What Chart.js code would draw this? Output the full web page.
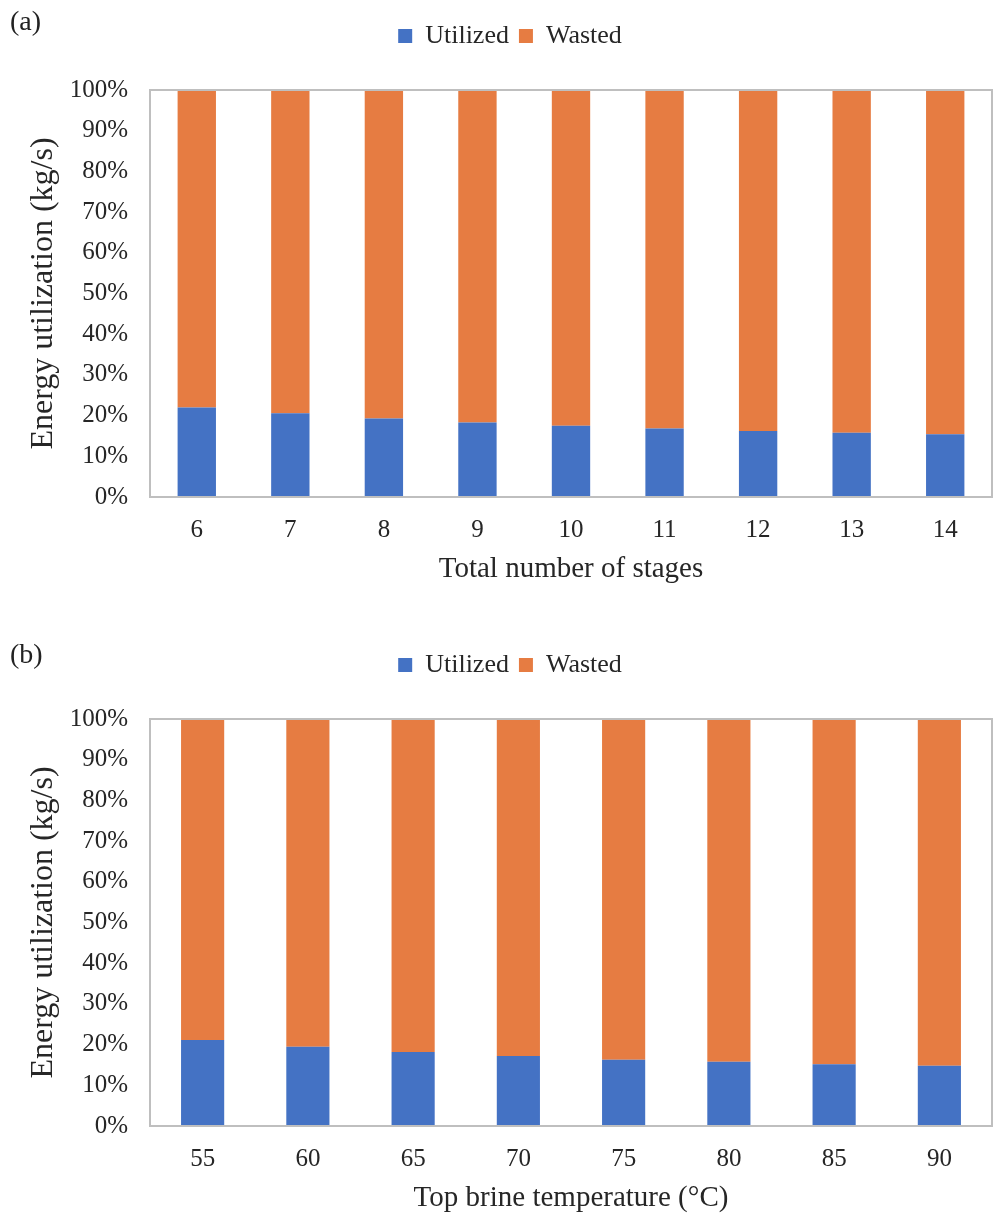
<!DOCTYPE html>
<html>
<head>
<meta charset="utf-8">
<script src="https://cdn.jsdelivr.net/npm/chart.js@4.4.1/dist/chart.umd.min.js"></script>
<style>
  body { margin: 0; background: #fff; width: 994px; height: 1213px; position: relative; font-family: "Liberation Serif", "Times New Roman", serif; }
  .panel { position: absolute; left: 0; width: 994px; height: 584px; }
  .tag { position: absolute; left: 10px; font-size: 28px; color: #222; }
</style>
</head>
<body>
<div class="panel" style="top:0"><canvas id="graficoA" width="994" height="584"></canvas></div>
<div class="tag" style="top:5px">(a)</div>
<div class="panel" style="top:629px"><canvas id="graficoB" width="994" height="584"></canvas></div>
<div class="tag" style="top:638px">(b)</div>
<script>
const stages = ["6", "7", "8", "9", "10", "11", "12", "13", "14"];
const utilizedA = [22.0, 20.6, 19.3, 18.3, 17.5, 16.8, 16.2, 15.8, 15.4];
const wastedA = [78.0, 79.4, 80.7, 81.7, 82.5, 83.2, 83.8, 84.2, 84.6];

const temps = ["55", "60", "65", "70", "75", "80", "85", "90"];
const utilizedB = [21.1, 19.5, 18.2, 17.2, 16.3, 15.8, 15.2, 14.8];
const wastedB = [78.9, 80.5, 81.8, 82.8, 83.7, 84.2, 84.8, 85.2];

const yTicks = [0, 10, 20, 30, 40, 50, 60, 70, 80, 90, 100];

const serif = "'Liberation Serif', 'Times New Roman', serif";
const textColor = "#262626";

// gray frame around plot area like excel
const marcoPlugin = {
  id: "marco",
  afterDraw(chart) {
    const a = chart.chartArea;
    const ctx = chart.ctx;
    ctx.save();
    ctx.strokeStyle = "#bfbfbf";
    ctx.lineWidth = 2;
    ctx.strokeRect(a.left, a.top, a.right - a.left, a.bottom - a.top);
    ctx.restore();
  },
};

// extra room under the legend
const espacioLeyenda = {
  id: "espacioLeyenda",
  beforeInit(chart) {
    const fitOriginal = chart.legend.fit;
    chart.legend.fit = function () {
      fitOriginal.bind(chart.legend)();
      this.height += 31;
    };
  },
};

const crearGrafico = (id, labels, utilized, wasted, xTitle) => {
  return new Chart(document.getElementById(id), {
    type: "bar",
    data: {
      labels: labels,
      datasets: [
        {
          label: "Utilized",
          data: utilized,
          backgroundColor: "#4472c4",
          barPercentage: 0.41,
          categoryPercentage: 1,
        },
        {
          label: "Wasted",
          data: wasted,
          backgroundColor: "#e67c42",
          barPercentage: 0.41,
          categoryPercentage: 1,
        },
      ],
    },
    options: {
      responsive: false,
      animation: false,
      layout: { padding: { top: 13, right: 2, bottom: 0, left: 28 } },
      plugins: {
        tooltip: { enabled: false },
        legend: {
          position: "top",
          labels: {
            font: { family: serif, size: 26 },
            color: textColor,
            boxWidth: 14,
            boxHeight: 14,
            padding: 10,
          },
        },
      },
      scales: {
        x: {
          stacked: true,
          afterFit: (axis) => {
            axis.height = 87;
          },
          grid: { display: false, drawTicks: false },
          border: { display: false },
          ticks: { font: { family: serif, size: 25 }, color: textColor, padding: 18 },
          title: {
            display: true,
            text: xTitle,
            font: { family: serif, size: 29, lineHeight: 1 },
            color: textColor,
            padding: { top: 10, bottom: 0 },
          },
        },
        y: {
          stacked: true,
          min: 0,
          max: 100,
          afterBuildTicks: (axis) => {
            axis.ticks = yTicks.map((v) => ({ value: v }));
          },
          afterFit: (axis) => {
            axis.width = 122;
          },
          grid: { display: false, drawTicks: false },
          border: { display: false },
          ticks: {
            font: { family: serif, size: 25 },
            color: textColor,
            padding: 22,
            callback: (v) => v + "%",
          },
          title: {
            display: true,
            text: "Energy utilization (kg/s)",
            font: { family: serif, size: 32, lineHeight: 1 },
            color: textColor,
            padding: { top: 0, bottom: 10 },
          },
        },
      },
    },
    plugins: [marcoPlugin, espacioLeyenda],
  });
};

crearGrafico("graficoA", stages, utilizedA, wastedA, "Total number of stages");
crearGrafico("graficoB", temps, utilizedB, wastedB, "Top brine temperature (\u00b0C)");
</script>
</body>
</html>
